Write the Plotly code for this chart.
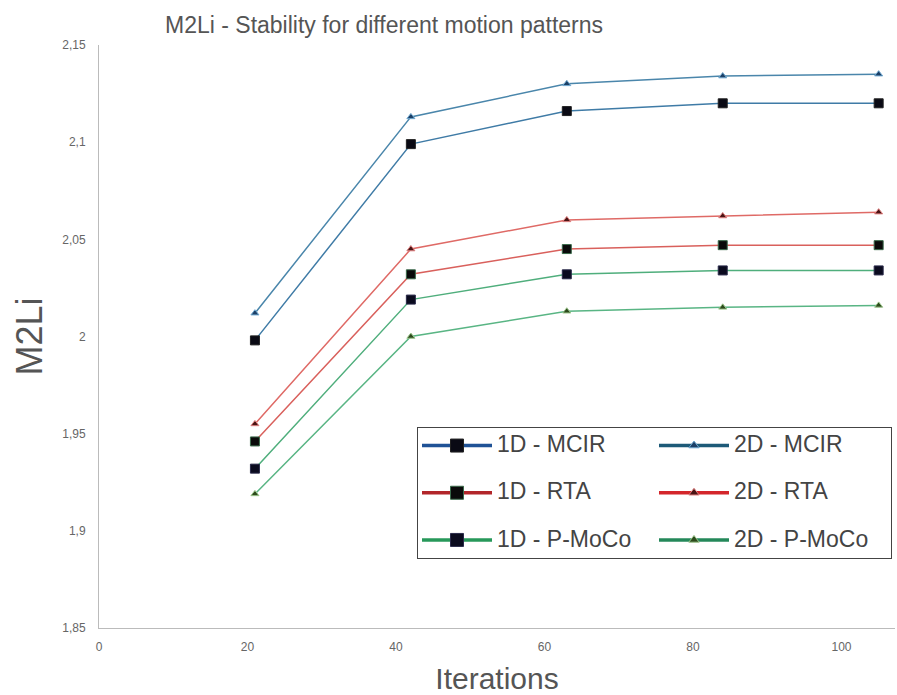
import plotly.graph_objects as go

iterations = [21, 42, 63, 84, 105]

series_names = ["1D - MCIR", "2D - MCIR", "1D - RTA", "2D - RTA", "1D - P-MoCo", "2D - P-MoCo"]
series_groups = ["1D", "2D", "1D", "2D", "1D", "2D"]
mcir_1d = [1.998, 2.099, 2.116, 2.120, 2.120]
mcir_2d = [2.012, 2.113, 2.130, 2.134, 2.135]
rta_1d = [1.946, 2.032, 2.045, 2.047, 2.047]
rta_2d = [1.955, 2.045, 2.060, 2.062, 2.064]
pmoco_1d = [1.932, 2.019, 2.032, 2.034, 2.034]
pmoco_2d = [1.919, 2.000, 2.013, 2.015, 2.016]

y_tickvals = [1.85, 1.9, 1.95, 2.0, 2.05, 2.1, 2.15]
y_ticktext = ["1,85", "1,9", "1,95", "2", "2,05", "2,1", "2,15"]
x_tickvals = [0, 20, 40, 60, 80, 100]

values = [mcir_1d, mcir_2d, rta_1d, rta_2d, pmoco_1d, pmoco_2d]
plot_line_colors = ["#3f7ba6", "#4a86ab", "#d9605c", "#df6a66", "#4fae7c", "#59b584"]
legend_line_colors = ["#1f5296", "#1d5a78", "#b2262a", "#d4262b", "#27985a", "#24885a"]
marker_symbols = ["square", "triangle-up", "square", "triangle-up", "square", "triangle-up"]
marker_fill = ["#0a0a14", "#1c3f66", "#0a0a0a", "#4a1414", "#0a0a1e", "#2c4a1c"]
marker_edge = ["#222222", "#6fa8d0", "#3a6a4a", "#e08080", "#2a2a4a", "#9bc48a"]

fig = go.Figure()

for name, vals, lc, sym, fc, ec in zip(series_names, values, plot_line_colors,
                                        marker_symbols, marker_fill, marker_edge):
    is_sq = sym == "square"
    fig.add_trace(go.Scatter(
        x=iterations, y=vals, mode="lines+markers", name=name, showlegend=False,
        line=dict(color=lc, width=1.5),
        marker=dict(symbol=sym, size=9 if is_sq else 7, color=fc,
                    line=dict(color=ec, width=1)),
    ))

# legend-only entries (thicker line samples as in the reference)
for i, (name, grp, lc, sym, fc, ec) in enumerate(zip(series_names, series_groups,
                                                     legend_line_colors, marker_symbols,
                                                     marker_fill, marker_edge)):
    is_sq = sym == "square"
    label = "<span style='font-size:23px'>" + name + "</span>"
    if i < 4:
        label += "<br> "
    fig.add_trace(go.Scatter(
        x=[None], y=[None], mode="lines+markers", name=label, legendgroup=grp,
        line=dict(color=lc, width=3.5),
        marker=dict(symbol=sym, size=13 if is_sq else 9, color=fc,
                    line=dict(color=ec, width=1)),
    ))

fig.update_layout(
    width=897, height=695,
    margin=dict(l=99, r=2, t=45, b=67, autoexpand=False),
    paper_bgcolor="white", plot_bgcolor="white",
    font=dict(family="Liberation Sans, Arial, sans-serif", color="#555555"),
    title=dict(text="M2Li - Stability for different motion patterns",
               font=dict(size=23, color="#555555"),
               x=165 / 897, xanchor="left", xref="container",
               y=1 - 25 / 695, yanchor="middle", yref="container"),
    legend=dict(
        orientation="h", traceorder="grouped",
        x=(417 - 99) / 796, xanchor="left", y=(628 - 427) / 583, yanchor="top",
        bordercolor="#444444", borderwidth=1, bgcolor="white",
        font=dict(size=17, color="#444444"),
        entrywidth=152, entrywidthmode="pixels", valign="top",
        itemsizing="trace", itemwidth=70,
    ),
    xaxis=dict(range=[0, 107.2], tickvals=x_tickvals, showgrid=False, zeroline=False,
               showline=True, linecolor="#bbbbbb", linewidth=1,
               tickfont=dict(size=12, color="#666666"), ticklabelstandoff=8,
               title=dict(text="Iterations", font=dict(size=30, color="#555555"), standoff=14)),
    yaxis=dict(range=[1.85, 2.15], tickvals=y_tickvals, ticktext=y_ticktext,
               showgrid=False, zeroline=False,
               showline=True, linecolor="#bbbbbb", linewidth=1,
               tickfont=dict(size=12, color="#666666"), ticklabelstandoff=10,
               title=dict(text="M2Li", font=dict(size=36, color="#555555"), standoff=8)),
)

fig.write_html("out.html", config={"displayModeBar": False},
               post_script="document.body.style.margin='0';")
